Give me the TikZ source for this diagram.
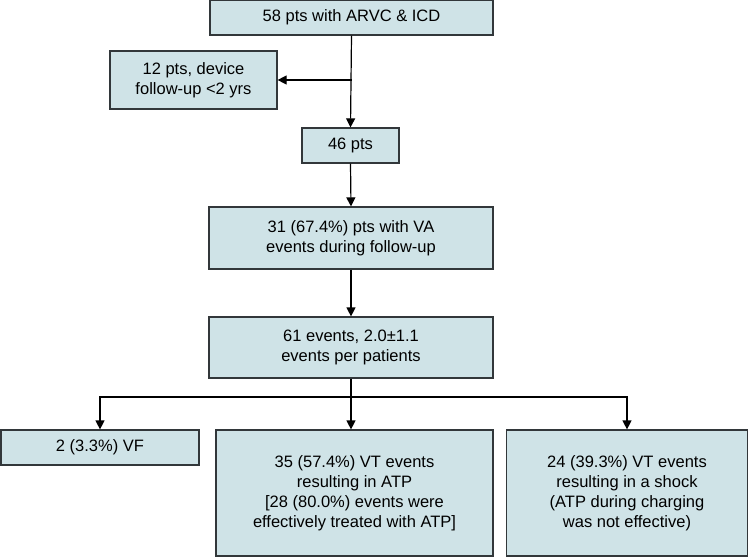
\documentclass[tikz,border=0pt]{standalone}
\usepackage{fontspec}
\setmainfont{Liberation Sans}
\usepackage{tikz}
\usetikzlibrary{arrows.meta}
\usetikzlibrary{positioning}
\definecolor{boxfill}{RGB}{207,227,231}
\definecolor{boxline}{RGB}{50,55,58}
\tikzstyle{box}=[rectangle,draw=boxline,fill=boxfill,line width=1.2pt,align=center,inner sep=0pt,font=\fontsize{16.5}{20}\selectfont]
\tikzstyle{arrow}=[-{Triangle[width=9pt,length=9pt]},draw=black,line width=1.2pt]

\begin{document}
\begin{tikzpicture}[x=1pt,y=-1pt]
    \useasboundingbox (0,0) rectangle (748,557);
    % boxes, top to bottom
    \node [box,minimum width=283,minimum height=35] (top) at (351.5,17.5) {58 pts with ARVC \& ICD};
    \node [box,minimum width=167,minimum height=58] (early) at (193.5,80) {12 pts, device\\follow-up <2 yrs};
    \node [box,minimum width=97,minimum height=35] (pts) at (350.5,145.5) {46 pts};
    \node [box,minimum width=284,minimum height=62] (va) at (351,238) {31 (67.4\%) pts with VA\\events during follow-up};
    \node [box,minimum width=284,minimum height=61] (events) at (351,347.5) {61 events, 2.0±1.1\\events per patients};
    \node [box,minimum width=198,minimum height=35] (vf) at (100,447.5) {2 (3.3\%) VF};
    \node [box,minimum width=277,minimum height=126] (atp) at (354.5,493) {35 (57.4\%) VT events\\resulting in ATP\\{[}28 (80.0\%) events were\\effectively treated with ATP{]}};
    \node [box,minimum width=241,minimum height=126] (shock) at (627,493) {24 (39.3\%) VT events\\resulting in a shock\\(ATP during charging\\was not effective)};

    \coordinate (split) at (top.south |- early.east);
    \coordinate (bus) at (351,397);

    \draw [arrow] (top.south) -- (pts.north);
    \draw [arrow] (split) -- (early.east);
    \draw [arrow] (pts.south) -- (va.north);
    \draw [arrow] (va.south) -- (events.north);
    \draw [arrow] (events.south) -- (events.south |- atp.north);
    \draw [arrow] (bus) -| (vf.north);
    \draw [arrow] (bus) -| (shock.north);
\end{tikzpicture}
\end{document}
